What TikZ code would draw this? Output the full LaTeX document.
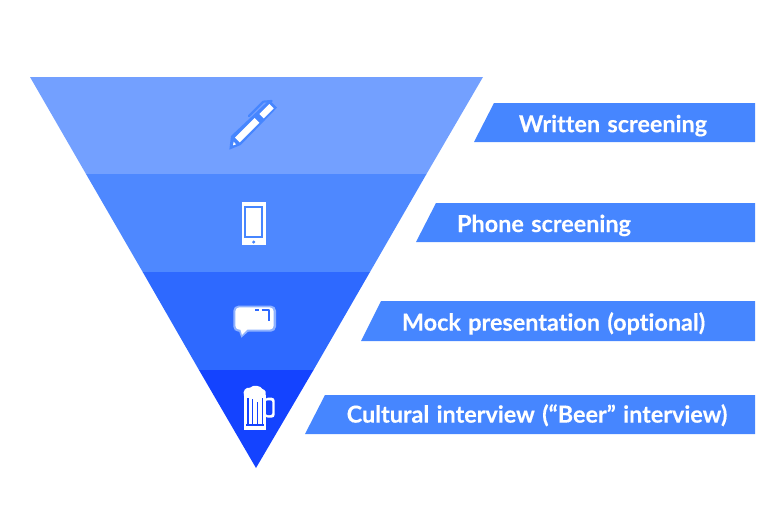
\documentclass[tikz,border=0pt]{standalone}
\usepackage{fontspec}
\usepackage{xcolor}
\usepackage{tikz}
\setmainfont{Lato}[UprightFont=* Bold,Ligatures=NoCommon,FakeBold=0.25,WordSpace=1.3]
\definecolor{bandone}{HTML}{73A0FF}
\definecolor{bandtwo}{HTML}{4E88FF}
\definecolor{bandthree}{HTML}{2E69FF}
\definecolor{bandfour}{HTML}{1443FF}
\definecolor{tagblue}{HTML}{4686FF}
\definecolor{halo}{HTML}{8FB2FF}
\tikzset{
  tag/.style={fill=tagblue},
  lbl/.style={text=white, font=\fontsize{23.4}{26}\selectfont, inner sep=0pt, anchor=base},
  ink/.style={line width=2.2pt, line cap=round, line join=round}
}
\begin{document}
\begin{tikzpicture}[x=1pt,y=-1pt]
\useasboundingbox (0,0) rectangle (780,528);

% funnel bands
\fill[bandone] (30,77)--(483,77)--(426.5,174)--(86,174)--cycle;
\fill[bandtwo] (86,174)--(426.5,174)--(370,272)--(142.7,272)--cycle;
\fill[bandthree] (142.7,272)--(370,272)--(313.5,370)--(199,370)--cycle;
\fill[bandfour] (199,370)--(313.5,370)--(256,468)--cycle;

% tags on the right
\fill[tag] (494,103)--(755,103)--(755,142)--(474,142)--cycle;
\fill[tag] (436,203)--(755,203)--(755,242)--(416,242)--cycle;
\fill[tag] (381,301)--(755,301)--(755,341)--(361,341)--cycle;
\fill[tag] (325,395)--(755,395)--(755,434)--(305,434)--cycle;
\node[lbl] (written) at (613,132.2) {Written screening};
\node[lbl] (phone) at (544,232) {Phone screening};
\node[lbl] (mock) at (553.5,330.6) {Mock presentation (optional)};
\node[lbl] (beer) at (537,422.6) {Cultural interview (“Beer” interview)};

% pen
\begin{scope}[shift={(210,90)},scale=1/3]
\fill[tagblue] (58,179)--(63,138)--(178,30)--(201,53)--(92,165)--cycle;
\fill[white] (75,143)--(134,84)--(148,98)--(89,157)--cycle;
\fill[white] (148,72)--(178,42)--(191,55)--(161,85)--cycle;
\fill[white] (71,155)--(78,163)--(69,166)--cycle;
\draw[ink,tagblue] (117,78)--(160,35)--(185,33);
\end{scope}

% phone
\begin{scope}[shift={(220,195)},scale=1/3]
\fill[white] (65,22) rectangle (137,150);
\fill[tagblue] (71,32) rectangle (130,128);
\fill[white] (78,39) rectangle (124,122);
\fill[tagblue] (101,141) circle (5);
\end{scope}

% speech bubble
\begin{scope}[shift={(220,295)},scale=1/3]
\fill[halo,rounded corners=5pt] (40,32) rectangle (168,110);
\fill[halo] (56,105)--(64,128)--(90,105)--cycle;
\fill[white,rounded corners=4pt] (46,37) rectangle (161,104);
\fill[white] (60,100)--(66,120)--(85,100)--cycle;
\draw[ink,bandthree,line cap=butt] (105,44.5)--(118,44.5);
\draw[ink,bandthree,line cap=butt] (125,44.5)--(148,44.5)--(148,78);
\end{scope}

% beer mug
\begin{scope}[shift={(225,375)},scale=1/3]
\fill[white,rounded corners=3pt] (120,68) rectangle (149,128);
\fill[bandfour,rounded corners=2pt] (122,76) rectangle (142,120);
\fill[white] (57,60) rectangle (123,164);
\fill[bandfour] (63,147) rectangle (117,153);
\fill[bandfour] (66,68) rectangle (71,147);
\fill[bandfour] (80,72) rectangle (85,147);
\fill[bandfour] (95,80) rectangle (100,147);
\fill[bandfour] (110,68) rectangle (115,147);
\fill[white] (57,62) .. controls (52,48) and (62,36) .. (75,38) .. controls (85,28) and (108,32) .. (112,42) .. controls (122,44) and (124,54) .. (122,62) .. controls (112,68) and (108,60) .. (103,62) .. controls (100,76) and (92,76) .. (90,62) .. controls (80,60) and (70,64) .. (57,62) -- cycle;
\end{scope}
\end{tikzpicture}
\end{document}
